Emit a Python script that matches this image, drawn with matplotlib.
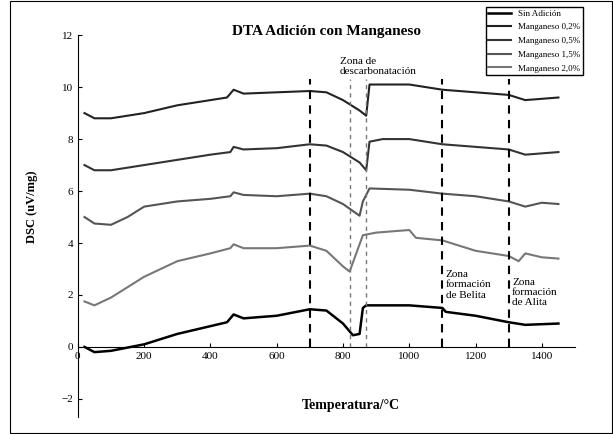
import matplotlib.pyplot as plt
from matplotlib.patches import Rectangle

plt.rcParams['font.family'] = ['Liberation Serif', 'DejaVu Serif']

# datos
t_sin = [20, 50, 100, 200, 300, 400, 450, 470, 500, 600, 700, 750, 800, 830, 850, 860, 870, 1000, 1100, 1110, 1200, 1300, 1350, 1450]
y_sin = [0, -0.2, -0.15, 0.1, 0.5, 0.8, 0.95, 1.25, 1.1, 1.2, 1.45, 1.4, 0.9, 0.45, 0.5, 1.5, 1.6, 1.6, 1.5, 1.35, 1.2, 0.95, 0.85, 0.9]

t_20 = [20, 50, 100, 200, 300, 400, 460, 470, 500, 600, 700, 750, 800, 820, 840, 860, 900, 1000, 1020, 1100, 1200, 1300, 1330, 1350, 1400, 1450]
y_20 = [1.75, 1.6, 1.9, 2.7, 3.3, 3.6, 3.8, 3.95, 3.8, 3.8, 3.9, 3.7, 3.1, 2.9, 3.6, 4.3, 4.4, 4.5, 4.2, 4.1, 3.7, 3.5, 3.3, 3.6, 3.45, 3.4]

t_15 = [20, 50, 100, 150, 200, 300, 400, 460, 470, 500, 600, 700, 750, 800, 850, 860, 880, 1000, 1100, 1200, 1300, 1350, 1400, 1450]
y_15 = [5.0, 4.75, 4.7, 5.0, 5.4, 5.6, 5.7, 5.8, 5.95, 5.85, 5.8, 5.9, 5.8, 5.5, 5.05, 5.6, 6.1, 6.05, 5.9, 5.8, 5.6, 5.4, 5.55, 5.5]

t_05 = [20, 50, 100, 200, 300, 400, 460, 470, 500, 600, 700, 750, 800, 850, 870, 880, 920, 1000, 1100, 1200, 1300, 1350, 1450]
y_05 = [7.0, 6.8, 6.8, 7.0, 7.2, 7.4, 7.5, 7.7, 7.6, 7.65, 7.8, 7.75, 7.5, 7.1, 6.8, 7.9, 8.0, 8.0, 7.8, 7.7, 7.6, 7.4, 7.5]

t_02 = [20, 50, 100, 200, 300, 400, 450, 470, 500, 600, 700, 750, 800, 850, 870, 880, 1000, 1100, 1200, 1300, 1350, 1450]
y_02 = [9.0, 8.8, 8.8, 9.0, 9.3, 9.5, 9.6, 9.9, 9.75, 9.8, 9.85, 9.8, 9.5, 9.1, 8.9, 10.1, 10.1, 9.9, 9.8, 9.7, 9.5, 9.6]

zonas = [700, 1100, 1300]
zonas_desc = [820, 870]

fig = plt.figure(figsize=(6.13, 4.34), dpi=100)
fig.patches.append(Rectangle((0.016, 0.002), 0.982, 0.996, transform=fig.transFigure,
                             fill=False, edgecolor='black', linewidth=0.8))
ax = fig.add_axes([0.127, 0.039, 0.811, 0.88])

ax.plot(t_sin, y_sin, color='black', lw=1.8, label='Sin Adición')
ax.plot(t_02, y_02, color='#222222', lw=1.5, label='Manganeso 0,2%')
ax.plot(t_05, y_05, color='#333333', lw=1.5, label='Manganeso 0,5%')
ax.plot(t_15, y_15, color='#555555', lw=1.5, label='Manganeso 1,5%')
ax.plot(t_20, y_20, color='#777777', lw=1.5, label='Manganeso 2,0%')

for z in zonas:
    ax.plot([z, z], [0, 10.3], color='black', lw=1.5, ls=(0, (4, 3)))
for z in zonas_desc:
    ax.plot([z, z], [0, 10.3], color='#777777', lw=1, ls=(0, (3, 3)))

ax.text(790, 10.5, 'Zona de\ndescarbonatación', fontsize=8)
ax.text(1110, 1.9, 'Zona\nformación\nde Belita', fontsize=8)
ax.text(1310, 1.6, 'Zona\nformación\nde Alita', fontsize=8)

ax.set_xlim(0, 1500)
ax.set_ylim(-2.7, 12)
ax.set_xticks(range(0, 1600, 200))
ax.set_yticks(range(-2, 13, 2))
ax.tick_params(labelsize=8, direction='in', length=3)
ax.spines['bottom'].set_position(('data', 0))
ax.spines['top'].set_visible(False)
ax.spines['right'].set_visible(False)
ax.set_ylabel('DSC (uV/mg)', fontsize=9, fontweight='bold')
ax.yaxis.set_label_coords(-0.08, 0.55)
ax.text(0.55, 0.02, 'Temperatura/°C', transform=ax.transAxes, ha='center',
        fontsize=10, fontweight='bold')
ax.text(0.5, 1.0, 'DTA Adición con Manganeso', transform=ax.transAxes, ha='center',
        fontsize=11, fontweight='bold')

fig.legend(loc='upper left', bbox_to_anchor=(0.785, 0.995), fontsize=6.5, frameon=True,
           fancybox=False, edgecolor='black', handlelength=2.5, borderpad=0.3,
           labelspacing=0.6, framealpha=1)

fig.savefig('out.png')
